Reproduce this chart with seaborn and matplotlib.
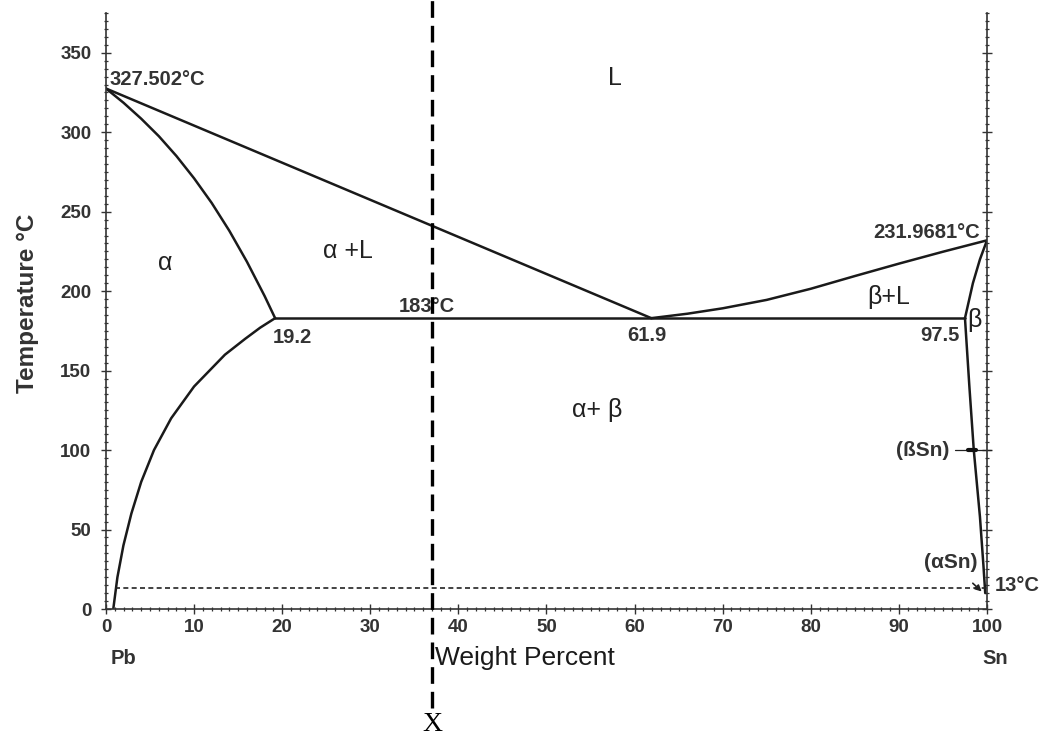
import matplotlib
matplotlib.use("Agg")
import matplotlib.pyplot as plt
import seaborn as sns
import pandas as pd
from matplotlib.ticker import MultipleLocator

# Pb-Sn phase diagram
liq_left_x = [0, 61.9]
liq_left_t = [327.502, 183]

liq_right_x = [61.9, 66, 70, 75, 80, 85, 90, 95, 100]
liq_right_t = [183, 185.8, 189.2, 194.5, 201.5, 209.5, 217.3, 224.8, 231.9681]

sol_a_x = [0, 2, 4, 6, 8, 10, 12, 14, 16, 18, 19.2]
sol_a_t = [327.502, 318.5, 308.5, 297.5, 285, 271, 255.5, 238, 218.5, 197, 183]

solvus_a_x = [19.2, 17.5, 15.8, 13.5, 10.0, 7.4, 5.45, 4.0, 2.88, 1.98, 1.3, 0.83]
solvus_a_t = [183, 177, 170, 160, 140, 120, 100, 80, 60, 40, 20, 0]

sol_b_x = [97.5, 98.4, 99.2, 100]
sol_b_t = [183, 205, 220, 231.9681]

solvus_b_x = [97.5, 98.0, 98.5, 99.2, 99.6, 99.8]
solvus_b_t = [183, 140, 100, 58, 27, 10]

eutectic_x = [19.2, 97.5]
eutectic_t = [183, 183]

transition_x = [1.0, 100]
transition_t = [13, 13]

x_alloy = 37.0

curves = [
    (liq_left_x, liq_left_t),
    (liq_right_x, liq_right_t),
    (sol_a_x, sol_a_t),
    (solvus_a_x, solvus_a_t),
    (sol_b_x, sol_b_t),
    (solvus_b_x, solvus_b_t),
    (eutectic_x, eutectic_t),
]

sns.set_theme(style="ticks")
plt.rcParams['font.family'] = ['Liberation Sans', 'DejaVu Sans']

fig = plt.figure(figsize=(10.44, 7.39), dpi=100)
ax = fig.add_axes([0.1015, 0.1759, 0.8439, 0.8065])

for cx, ct in curves:
    df = pd.DataFrame({'wt': cx, 'T': ct})
    sns.lineplot(data=df, x='wt', y='T', ax=ax, sort=False, estimator=None,
                 color='#1a1a1a', lw=1.8)

# 13 C transformation line
ax.plot(transition_x, transition_t, color='#222222', lw=1.2, dashes=(3, 2))

# alloy composition line
ax.plot([x_alloy, x_alloy], [-62, 384], color='black', lw=2.4, dashes=(5, 2.4),
        clip_on=False, zorder=5)
ax.text(x_alloy, -72.5, 'X', family=['Liberation Serif', 'DejaVu Serif'], fontsize=20,
        ha='center', va='center', color='black', clip_on=False)

ax.set_xlim(0, 100)
ax.set_ylim(0, 375)
ax.set_xlabel('')
ax.set_ylabel('')
ax.spines['top'].set_visible(False)
for s in ['left', 'bottom', 'right']:
    ax.spines[s].set_linewidth(1.2)
    ax.spines[s].set_color('#333333')

ax.xaxis.set_major_locator(MultipleLocator(10))
ax.xaxis.set_minor_locator(MultipleLocator(1))
ax.yaxis.set_major_locator(MultipleLocator(50))
ax.yaxis.set_minor_locator(MultipleLocator(5))
ax.tick_params(axis='both', which='major', direction='inout', length=7, width=1,
               colors='#333333', labelsize=13.5, pad=4)
ax.tick_params(axis='y', which='major', pad=7)
ax.tick_params(axis='both', which='minor', direction='inout', length=3.5, width=0.9,
               colors='#333333')
ax.tick_params(axis='y', right=True, which='both', labelright=False)
for lab in ax.get_xticklabels() + ax.get_yticklabels():
    lab.set_fontweight('bold')
    lab.set_color('#333333')

ax.text(-0.0885, 0.513, 'Temperature °C', transform=ax.transAxes, rotation=90,
        ha='center', va='center', fontsize=17.5, fontweight='bold', color='#333333')
ax.text(0.4756, -0.082, 'Weight Percent', transform=ax.transAxes,
        ha='center', va='center', fontsize=19, color='#1a1a1a')
ax.text(2.0, -31, 'Pb', ha='center', va='center', fontsize=14.5, fontweight='bold',
        color='#333333', clip_on=False)
ax.text(100.9, -31, 'Sn', ha='center', va='center', fontsize=14.5, fontweight='bold',
        color='#333333', clip_on=False)

num = dict(fontsize=14.5, fontweight='bold', color='#333333')
ax.text(0.45, 333, '327.502°C', ha='left', va='center', **num)
ax.text(99.2, 237, '231.9681°C', ha='right', va='center', **num)
ax.text(36.4, 190.5, '183°C', ha='center', va='center', **num)
ax.text(18.9, 171, '19.2', ha='left', va='center', **num)
ax.text(61.4, 172, '61.9', ha='center', va='center', **num)
ax.text(96.9, 172, '97.5', ha='right', va='center', **num)
ax.text(100.9, 15, '13°C', ha='left', va='center', clip_on=False, **num)

ph = dict(fontsize=18, color='#222222', ha='center', va='center')
ax.text(57.8, 334, 'L', **ph)
ax.text(6.7, 218, 'α', **ph)
ax.text(27.5, 225, 'α +L', **ph)
ax.text(55.7, 125, 'α+ β', **ph)
ax.text(88.8, 196, 'β+L', **ph)
ax.text(98.6, 182, 'β', **ph)

# (ßSn) leader and (αSn) arrow
ax.plot([96.4, 100.4], [100, 100], color='#222222', lw=0.9, clip_on=False)
ax.plot([97.9, 98.8], [100, 100], color='#111111', lw=3)
ax.text(95.7, 100, '(ßSn)', ha='right', va='center', fontsize=15,
        fontweight='bold', color='#333333')
ax.annotate('(αSn)', xy=(99.4, 11), xytext=(95.9, 29), ha='center', va='center',
            fontsize=15, fontweight='bold', color='#333333',
            arrowprops=dict(arrowstyle='-|>', color='#222222', lw=1.2,
                            mutation_scale=9, shrinkA=8, shrinkB=0))

fig.savefig('out.png', dpi=100, facecolor='white')
